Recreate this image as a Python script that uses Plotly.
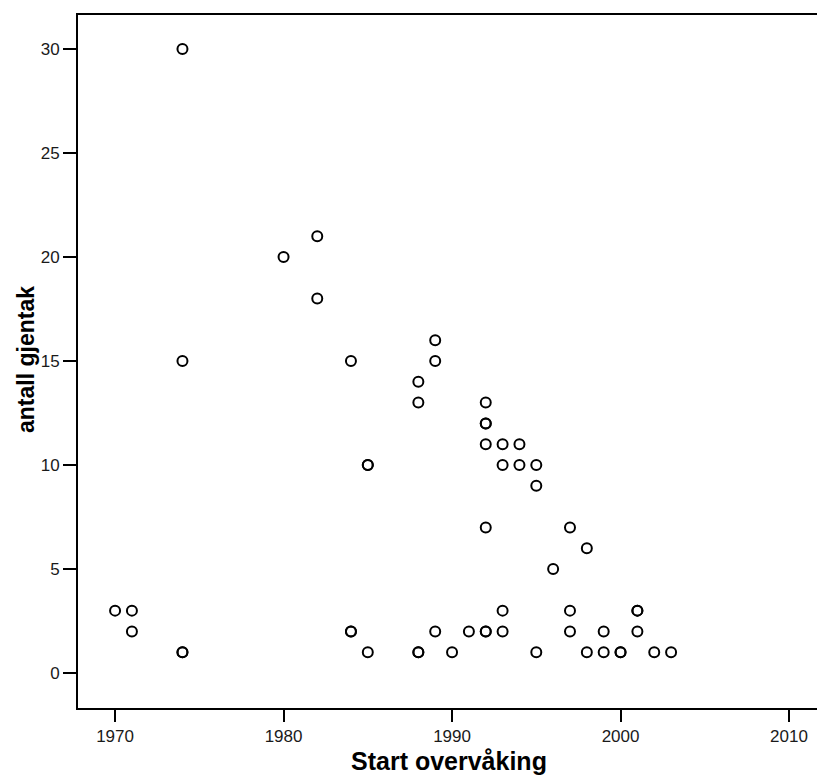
import plotly.graph_objects as go

# Data (duplicates drawn twice give the bolder rings)
years = [1970, 1971, 1971, 1974, 1974, 1974, 1974, 1980, 1982, 1982,
         1984, 1984, 1984, 1985, 1985, 1985, 1988, 1988, 1988, 1988,
         1989, 1989, 1989, 1990, 1991, 1992, 1992, 1992, 1992, 1992, 1992, 1992,
         1993, 1993, 1993, 1993, 1994, 1994, 1995, 1995, 1995, 1996,
         1997, 1997, 1997, 1998, 1998, 1999, 1999, 2000, 2000,
         2001, 2001, 2001, 2002, 2003]
counts = [3, 3, 2, 30, 15, 1, 1, 20, 21, 18,
          15, 2, 2, 10, 10, 1, 14, 13, 1, 1,
          16, 15, 2, 1, 2, 13, 12, 12, 11, 7, 2, 2,
          11, 10, 3, 2, 11, 10, 10, 9, 1, 5,
          7, 3, 2, 6, 1, 2, 1, 1, 1,
          3, 3, 2, 1, 1]

x_ticks = [1970, 1980, 1990, 2000, 2010]
y_ticks = [0, 5, 10, 15, 20, 25, 30]
x_title = "Start overvåking"
y_title = "antall gjentak"

W, H = 817, 776
ml, mr, mt, mb = 78, 0, 15, 68
pw, ph = W - ml - mr, H - mt - mb

fig = go.Figure()
fig.add_trace(go.Scatter(
    x=years, y=counts, mode="markers",
    marker=dict(symbol="circle-open", size=10, color="black",
                line=dict(width=2, color="black")),
    showlegend=False, hoverinfo="x+y"))

fam = "Liberation Sans, Arial, sans-serif"
tickfont = dict(family=fam, size=17, color="#1a1a1a")

fig.update_layout(
    width=W, height=H,
    margin=dict(l=ml, r=mr, t=mt, b=mb, pad=0),
    paper_bgcolor="white", plot_bgcolor="white",
    font=tickfont,
    xaxis=dict(range=[1967.80, 2011.66], tickvals=x_ticks, ticks="outside",
               ticklen=12, tickwidth=2, tickcolor="black", showline=True,
               linewidth=2, linecolor="black", mirror=True, showgrid=False,
               zeroline=False, tickfont=tickfont),
    yaxis=dict(range=[-1.68, 31.63], tickvals=y_ticks, ticks="outside",
               ticklen=13, tickwidth=2, tickcolor="black", showline=True,
               linewidth=2, linecolor="black", mirror=False, showgrid=False,
               zeroline=False, tickfont=tickfont),
    annotations=[
        dict(text=f"<b>{x_title}</b>", xref="paper", yref="paper",
             x=(449 - ml) / pw, y=(708 - 761) / ph, xanchor="center", yanchor="middle",
             showarrow=False, font=dict(family=fam, size=25, color="black")),
        dict(text=f"<b>{y_title}</b>", xref="paper", yref="paper",
             x=(26 - ml) / pw, y=(708 - 360) / ph, xanchor="center", yanchor="middle",
             textangle=-90, showarrow=False, font=dict(family=fam, size=23, color="black")),
    ],
)

fig.write_html("out.html", config={"displayModeBar": False},
               post_script="document.body.style.margin='0';"
                           "document.body.style.overflow='hidden';")
